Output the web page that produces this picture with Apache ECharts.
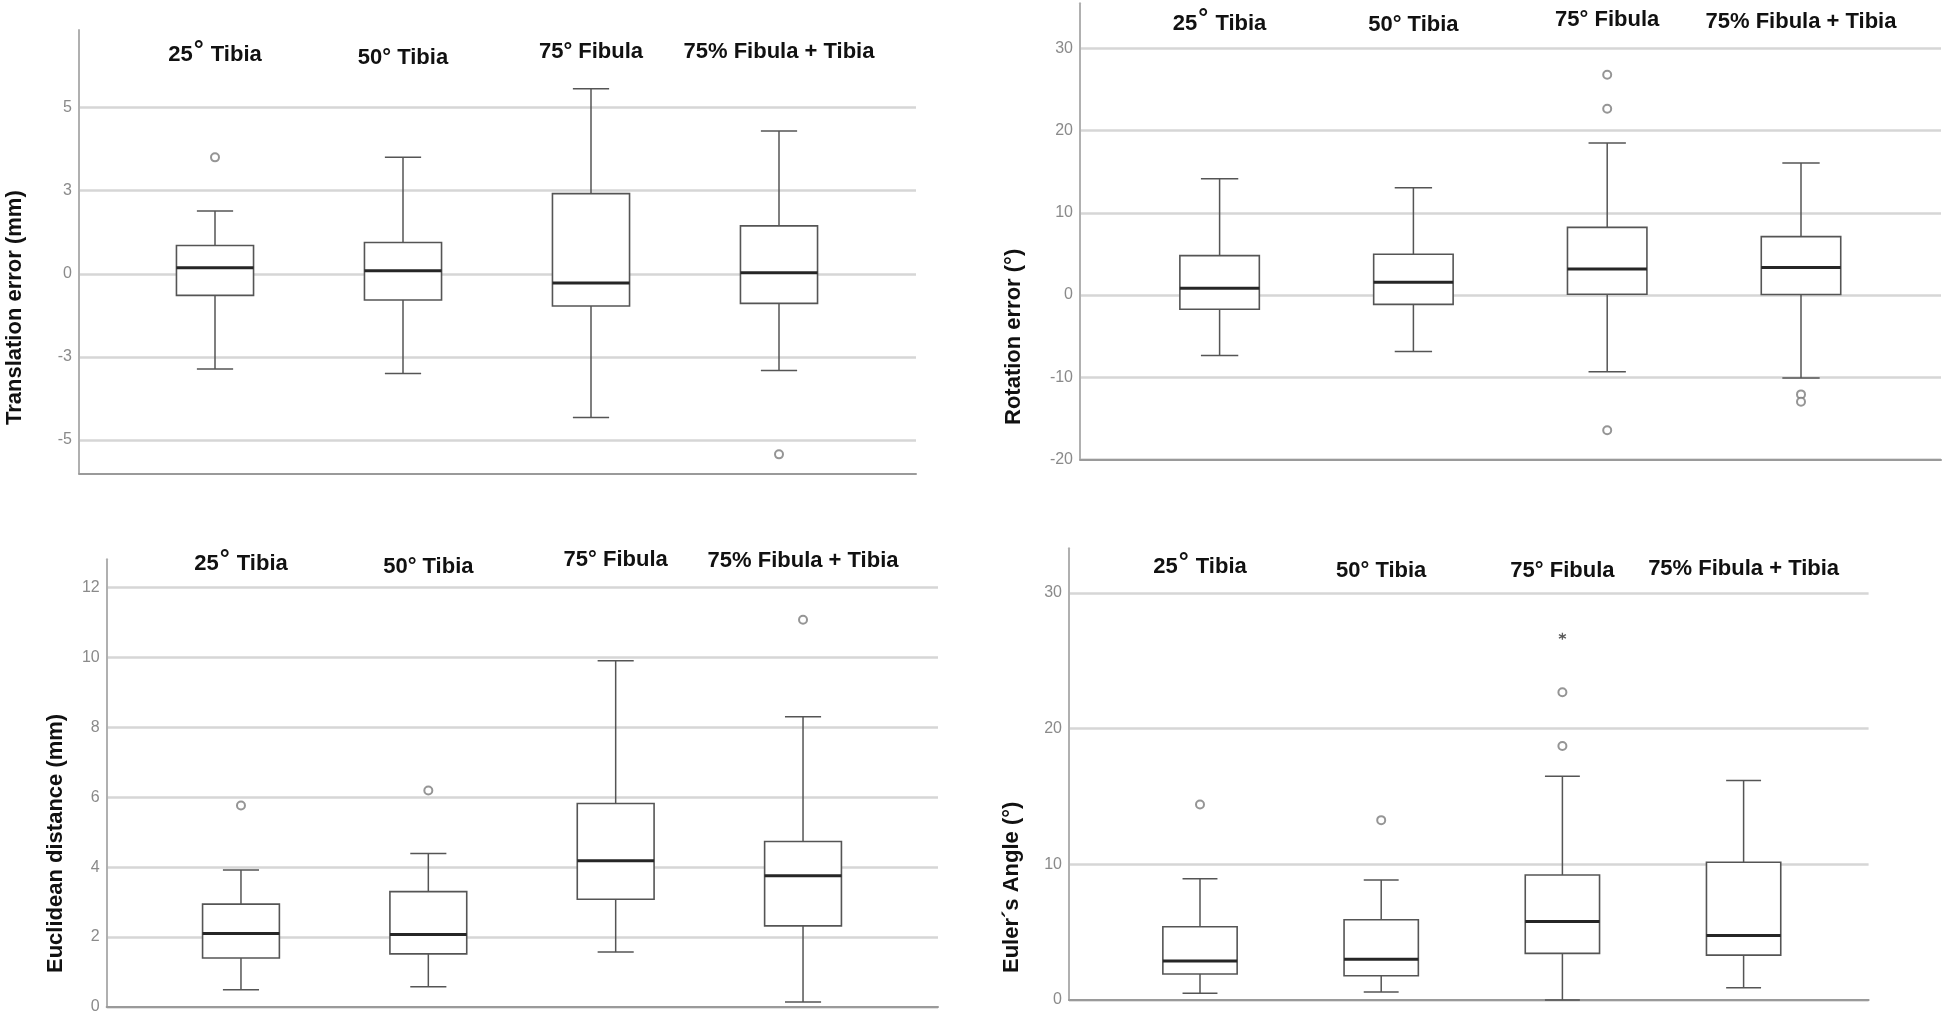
<!DOCTYPE html>
<html>
<head>
<meta charset="utf-8">
<script src="https://cdn.jsdelivr.net/npm/echarts@6/dist/echarts.min.js"></script>
<style>
html,body{margin:0;padding:0;background:#ffffff;}
#c{width:1944px;height:1021px;}
</style>
</head>
<body>
<div id="c"></div>
<script>
// ---------- DATA ----------
const categories = ['25° Tibia', '50° Tibia', '75° Fibula', '75% Fibula + Tibia'];

// each box: [lower whisker, Q1, median, Q3, upper whisker]
const translationBoxes = [
  [-2.86, -0.65, 0.18, 0.85, 1.89],
  [-3.00, -0.79, 0.09, 0.94, 3.50],
  [-4.32, -0.97, -0.28, 2.41, 5.56],
  [-2.91, -0.89, 0.03, 1.44, 4.29]
];
const translationOutliers = [[0, 3.50], [3, -5.43]];
const translationTicks = [-5, -2.5, 0, 2.5, 5];
const translationTickLabels = ['-5', '-3', '0', '3', '5'];

const rotationBoxes = [
  [-7.38, -1.74, 0.81, 4.79, 14.15],
  [-6.89, -1.14, 1.54, 4.95, 13.06],
  [-9.33, 0.08, 3.16, 8.23, 18.49],
  [-10.1, 0.05, 3.33, 7.10, 16.06]
];
const rotationOutliers = [[2, 26.8], [2, 22.67], [2, -16.46], [3, -12.1], [3, -13.0]];
const rotationTicks = [-20, -10, 0, 10, 20, 30];
const rotationTickLabels = ['-20', '-10', '0', '10', '20', '30'];

const euclideanBoxes = [
  [0.49, 1.40, 2.10, 2.94, 3.92],
  [0.58, 1.52, 2.07, 3.30, 4.39],
  [1.57, 3.08, 4.18, 5.82, 9.90],
  [0.14, 2.32, 3.75, 4.73, 8.30]
];
const euclideanOutliers = [[0, 5.76], [1, 6.19], [3, 11.07]];
const euclideanTicks = [0, 2, 4, 6, 8, 10, 12];
const euclideanTickLabels = ['0', '2', '4', '6', '8', '10', '12'];

const eulerBoxes = [
  [0.49, 1.92, 2.87, 5.40, 8.94],
  [0.59, 1.79, 3.00, 5.92, 8.84],
  [0.00, 3.44, 5.79, 9.21, 16.50],
  [0.91, 3.31, 4.76, 10.16, 16.18]
];
const eulerOutliers = [[0, 14.41], [1, 13.26], [2, 18.73], [2, 22.69]];
const eulerExtremes = [[2, 26.81]];
const eulerTicks = [0, 10, 20, 30];
const eulerTickLabels = ['0', '10', '20', '30'];

// ---------- LAYOUT / STYLE ----------
const panels = [
  { title: 'Translation error (mm)', boxes: translationBoxes, outliers: translationOutliers, extremes: [],
    ticks: translationTicks, tickLabels: translationTickLabels, min: -6, max: 7.33,
    frame: { left: 79, top: 30, right: 916, bottom: 473.3 }, band: { left: 121, right: 873 },
    labelY: 51.7, labelDY: [3.2, 6.7, 0, 0], titleX: 15, titleY: 425 },
  { title: 'Rotation error (°)', boxes: rotationBoxes, outliers: rotationOutliers, extremes: [],
    ticks: rotationTicks, tickLabels: rotationTickLabels, min: -20, max: 35.5,
    frame: { left: 1080, top: 3.3, right: 1941, bottom: 459.3 }, band: { left: 1122.7, right: 1897.9 },
    labelY: 19.5, labelDY: [4, 5, 0, 2.5], titleX: 1014, titleY: 425 },
  { title: 'Euclidean distance (mm)', boxes: euclideanBoxes, outliers: euclideanOutliers, extremes: [],
    ticks: euclideanTicks, tickLabels: euclideanTickLabels, min: 0, max: 12.8,
    frame: { left: 106.7, top: 559.3, right: 938, bottom: 1007 }, band: { left: 147.3, right: 896.7 },
    labelY: 560.4, labelDY: [4, 7, 0, 1], titleX: 56, titleY: 973 },
  { title: 'Euler´s Angle (°)', boxes: eulerBoxes, outliers: eulerOutliers, extremes: eulerExtremes,
    ticks: eulerTicks, tickLabels: eulerTickLabels, min: 0, max: 33.3,
    frame: { left: 1069, top: 548.3, right: 1868.6, bottom: 1000 }, band: { left: 1109.4, right: 1834.2 },
    labelY: 567.4, labelDY: [0, 4, 4, 2], titleX: 1012, titleY: 973 }
];

const LINE = '#555555';
const MEDIAN = '#262626';
const GRID = '#d6d6d6';
const AXIS = '#9a9a9a';
const TICKTXT = '#8a8a8a';
const LABEL_FONT = '"Liberation Sans", Arial, sans-serif';

function renderBox(params, api) {
  const x = api.value(0);
  const lo = api.coord([x, api.value(1)]);
  const q1 = api.coord([x, api.value(2)]);
  const md = api.coord([x, api.value(3)]);
  const q3 = api.coord([x, api.value(4)]);
  const hi = api.coord([x, api.value(5)]);
  const bw = api.size([1, 0])[0] * 0.41;
  const cw = bw * 0.47;
  const cx = md[0];
  const ls = { stroke: LINE, lineWidth: 1.5, fill: null };
  return {
    type: 'group',
    children: [
      { type: 'line', shape: { x1: cx, y1: hi[1], x2: cx, y2: q3[1] }, style: ls },
      { type: 'line', shape: { x1: cx, y1: q1[1], x2: cx, y2: lo[1] }, style: ls },
      { type: 'line', shape: { x1: cx - cw / 2, y1: hi[1], x2: cx + cw / 2, y2: hi[1] }, style: ls },
      { type: 'line', shape: { x1: cx - cw / 2, y1: lo[1], x2: cx + cw / 2, y2: lo[1] }, style: ls },
      { type: 'rect', shape: { x: cx - bw / 2, y: q3[1], width: bw, height: q1[1] - q3[1] },
        style: { fill: '#ffffff', stroke: LINE, lineWidth: 1.6 } },
      { type: 'line', shape: { x1: cx - bw / 2, y1: md[1], x2: cx + bw / 2, y2: md[1] },
        style: { stroke: MEDIAN, lineWidth: 3 } }
    ]
  };
}

const grid = [], xAxis = [], yAxis = [], series = [], graphic = [];
panels.forEach((p, k) => {
  const f = p.frame;
  const gFrame = grid.length;
  grid.push({ left: f.left, top: f.top, width: f.right - f.left, height: f.bottom - f.top,
              containLabel: false, outerBoundsMode: 'none' });
  const gData = grid.length;
  grid.push({ left: p.band.left, top: f.top, width: p.band.right - p.band.left, height: f.bottom - f.top,
              containLabel: false, outerBoundsMode: 'none' });

  // frame axes
  xAxis.push({ gridIndex: gFrame, type: 'value', min: 0, max: 1, position: 'bottom',
    axisLine: { show: true, onZero: false, lineStyle: { color: AXIS, width: 2 } },
    axisTick: { show: false }, axisLabel: { show: false }, splitLine: { show: false } });
  const tl = p.tickLabels, tv = p.ticks;
  yAxis.push({ gridIndex: gFrame, type: 'value', min: p.min, max: p.max,
    axisLine: { show: true, onZero: false, lineStyle: { color: '#b0b0b0', width: 2 } },
    axisTick: { show: false, customValues: tv },
    axisLabel: { show: true, customValues: tv, margin: 7, color: TICKTXT, fontSize: 16,
      fontFamily: '"Liberation Sans Narrow", "Liberation Sans", Arial, sans-serif',
      formatter: function (v) {
        for (let i = 0; i < tv.length; i++) { if (Math.abs(tv[i] - v) < 1e-6) return tl[i]; }
        return '';
      } },
    splitLine: { show: true, lineStyle: { color: GRID, width: 2.5 } } });

  // data axes (category labels drawn at the top, inside the plot frame)
  const catData = categories.map((c, i) => ({
    value: c,
    textStyle: { verticalAlign: 'middle', align: 'center', padding: [2 * p.labelDY[i], 0, 0, 0] }
  }));
  xAxis.push({ gridIndex: gData, type: 'category', data: catData, position: 'top', boundaryGap: true,
    axisLine: { show: false }, axisTick: { show: false }, splitLine: { show: false },
    axisLabel: { show: true, interval: 0, margin: f.top - p.labelY, verticalAlign: 'middle',
      color: '#111111', fontSize: 22, fontWeight: 'bold', fontFamily: LABEL_FONT,
      formatter: function (v, i) { return i === 0 ? v.replace('°', '{deg|°}') : v; },
      rich: { deg: { fontSize: 25, fontWeight: 'bold', color: '#111111', fontFamily: LABEL_FONT, padding: [0, 1, 8, 1] } } } });
  yAxis.push({ gridIndex: gData, type: 'value', min: p.min, max: p.max, show: false,
    splitLine: { show: false } });

  const xi = xAxis.length - 1, yi = yAxis.length - 1;
  series.push({ type: 'custom', name: p.title + ' boxes', xAxisIndex: xi, yAxisIndex: yi,
    renderItem: renderBox, encode: { x: 0, y: [1, 2, 3, 4, 5] },
    data: p.boxes.map((b, i) => [i].concat(b)), silent: true, z: 3 });
  series.push({ type: 'scatter', name: p.title + ' outliers', xAxisIndex: xi, yAxisIndex: yi,
    symbol: 'emptyCircle', symbolSize: 8,
    itemStyle: { color: '#7a7a7a', borderColor: '#7a7a7a', borderWidth: 1.4 },
    data: p.outliers, silent: true, z: 4 });
  if (p.extremes.length) {
    series.push({ type: 'scatter', name: p.title + ' extremes', xAxisIndex: xi, yAxisIndex: yi,
      symbol: 'path://M5,0L5,10M0.67,2.5L9.33,7.5M0.67,7.5L9.33,2.5', symbolSize: 7,
      itemStyle: { color: 'none', borderColor: '#333333', borderWidth: 1.3 },
      data: p.extremes, silent: true, z: 4 });
  }

  graphic.push({ type: 'text', x: p.titleX, y: p.titleY, rotation: Math.PI / 2, silent: true,
    style: { text: p.title, fill: '#111111', fontSize: 22, fontWeight: 'bold', fontFamily: LABEL_FONT,
             align: 'left', verticalAlign: 'middle', textAlign: 'left', textVerticalAlign: 'middle' } });
});

const chart = echarts.init(document.getElementById('c'), null, { renderer: 'canvas' });
chart.setOption({
  backgroundColor: '#ffffff',
  animation: false,
  textStyle: { fontFamily: LABEL_FONT },
  grid: grid, xAxis: xAxis, yAxis: yAxis, series: series, graphic: graphic
});
</script>
</body>
</html>
